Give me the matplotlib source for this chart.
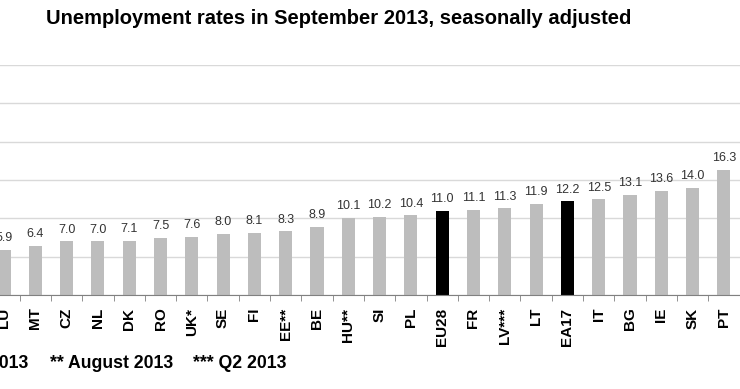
import numpy as np
import matplotlib.pyplot as plt

plt.rcParams['font.family'] = ['Liberation Sans', 'DejaVu Sans']

# Data (visible part of the chart)
countries = ['LU', 'MT', 'CZ', 'NL', 'DK', 'RO', 'UK*', 'SE', 'FI', 'EE**', 'BE', 'HU**',
             'SI', 'PL', 'EU28', 'FR', 'LV***', 'LT', 'EA17', 'IT', 'BG', 'IE', 'SK', 'PT']
rates = [5.9, 6.4, 7.0, 7.0, 7.1, 7.5, 7.6, 8.0, 8.1, 8.3, 8.9, 10.1,
         10.2, 10.4, 11.0, 11.1, 11.3, 11.9, 12.2, 12.5, 13.1, 13.6, 14.0, 16.3]
aggregates = ['EU28', 'EA17']
footnotes = ['* July 2013', '** August 2013', '*** Q2 2013']

W, H = 740, 389
fig = plt.figure(figsize=(W / 100, H / 100), dpi=100)

# axes reach past the image edges (the source image is a crop)
y_base, y_top = 295, 65
ax = fig.add_axes([0, 1 - y_base / H, 1, (y_base - y_top) / H])

x = np.arange(len(countries))
colors = ['black' if c in aggregates else '#bdbdbd' for c in countries]
ax.bar(x, rates, width=0.42, color=colors, zorder=3)

for xi, v in zip(x, rates):
    ax.annotate(f'{v:.1f}', (xi, v), xytext=(0, 4), textcoords='offset points',
                ha='center', va='bottom', fontsize=9, color='#333333')

spacing = 31.3
x0 = 4
ax.set_xlim(-x0 / spacing, (W - x0) / spacing)
ax.set_ylim(0, 30)
ax.set_yticks(np.arange(0, 31, 5))
ax.yaxis.grid(True, color='#d9d9d9', linewidth=1)
ax.tick_params(axis='y', left=False, labelleft=False)

ax.set_xticks(x)
ax.set_xticklabels(countries, rotation=90, fontsize=11, fontweight='bold')
ax.tick_params(axis='x', length=0, pad=9)
ax.set_xticks(x + 0.5, minor=True)
ax.tick_params(axis='x', which='minor', length=4, color='#808080', direction='out')

for s in ['top', 'left', 'right']:
    ax.spines[s].set_visible(False)
ax.spines['bottom'].set_color('#808080')
ax.spines['bottom'].set_zorder(4)

fig.text(339 / W, 1 - 18 / H, 'Unemployment rates in September 2013, seasonally adjusted',
         ha='center', va='center', fontsize=14.5, fontweight='bold')

fig.text(28 / W, 1 - 363 / H, footnotes[0], ha='right', va='center', fontsize=12.7, fontweight='bold')
fig.text(50 / W, 1 - 363 / H, footnotes[1], ha='left', va='center', fontsize=12.7, fontweight='bold')
fig.text(193 / W, 1 - 363 / H, footnotes[2], ha='left', va='center', fontsize=12.7, fontweight='bold')

fig.savefig('out.png', dpi=100)
